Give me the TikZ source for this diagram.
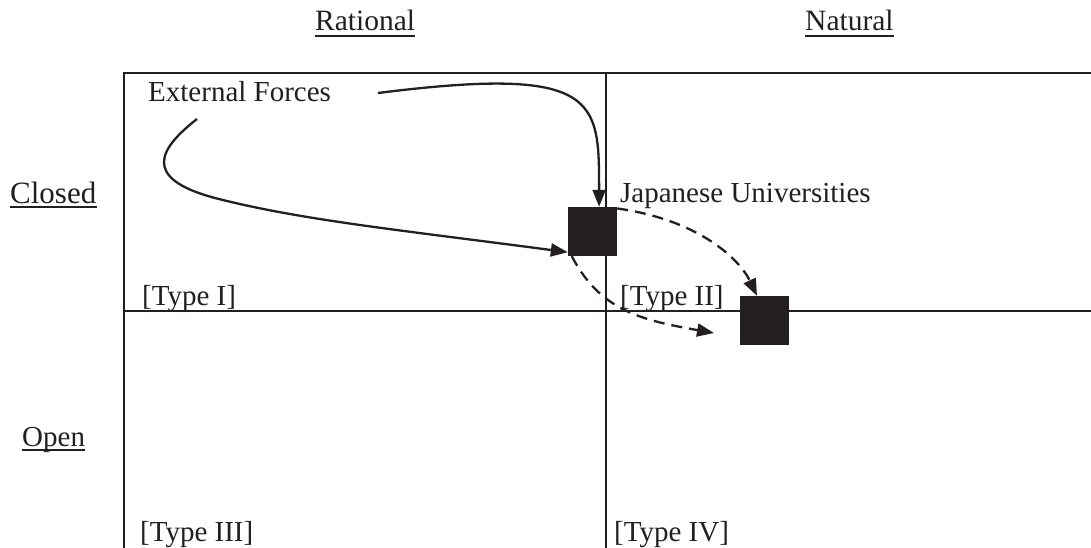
\documentclass[tikz,border=0pt]{standalone}
\usepackage{fontspec}
\setmainfont{Liberation Serif}
\usetikzlibrary{arrows.meta,calc}
\definecolor{ink}{HTML}{231F20}
\begin{document}
\begin{tikzpicture}[x=1pt,y=-1pt,
  frame/.style={draw=ink,line width=2pt},
  lbl/.style={inner sep=0pt,anchor=base west,text=ink,font=\fontsize{29}{34}\selectfont},
  ul/.style={draw=ink,line width=1.8pt},
  sq/.style={fill=ink,draw=none,minimum size=49pt,inner sep=0pt},
  arr/.style={draw=ink,line width=2.3pt,-{Triangle[length=17pt,width=13pt]}},
  darr/.style={arr,dash pattern=on 11pt off 7pt}]
\useasboundingbox (0,0) rectangle (1091,548);
% frame
\coordinate (tl) at (124,73);
\coordinate (tr) at (1091,73);
\coordinate (bl) at (124,548);
\coordinate (mt) at (606,73);
\coordinate (mb) at (606,548);
\coordinate (hl) at (124,311);
\coordinate (hr) at (1091,311);
\draw[frame] (tr) -- (tl) -- (bl);
\draw[frame] (mt) -- (mb);
\draw[frame] (hl) -- (hr);
% headers
\node[lbl,font=\fontsize{29.5}{34}\selectfont] (rat) at (315,31) {Rational};
\node[lbl,font=\fontsize{29.5}{34}\selectfont] (nat) at (805,31) {Natural};
\draw[ul] ($(rat.base west)+(0,5)$) -- ($(rat.base east)+(0,5)$);
\draw[ul] ($(nat.base west)+(0,5)$) -- ($(nat.base east)+(0,5)$);
\node[lbl,font=\fontsize{31}{36}\selectfont] (clo) at (10,203) {Closed};
\node[lbl] (ope) at (22,446) {Open};
\draw[ul] ($(clo.base west)+(0,4)$) -- ($(clo.base east)+(0,4)$);
\draw[ul] ($(ope.base west)+(0,4)$) -- ($(ope.base east)+(0,4)$);
% labels
\node[lbl] (ext) at (148,102) {External Forces};
\node[lbl] (jap) at (620,202) {Japanese Universities};
\node[lbl] (t1) at (142,305) {[Type I]};
\node[lbl] (t2) at (620,305) {[Type II]};
\node[lbl] (t3) at (140,541) {[Type III]};
\node[lbl] (t4) at (614,541) {[Type IV]};
% squares
\node[sq] (s1) at (592.5,231.5) {};
\node[sq] (s2) at (764.5,320.5) {};
% arrows
\coordinate (e1) at (378,93);
\coordinate (e2) at (197,119);
\coordinate (e4) at (714,333);
\draw[arr] (e1) .. controls (600,65) and (599,100) .. (s1.75);
\draw[arr] (e2) .. controls (160,148) and (140,178) .. (215,198) .. controls (300,220) and (400,230) .. (s1.220);
\draw[darr] (s1.43) .. controls (700,220) and (740,260) .. (s2.107);
\draw[darr] (s1.230) .. controls (600,310) and (640,320) .. (e4);
\end{tikzpicture}
\end{document}
